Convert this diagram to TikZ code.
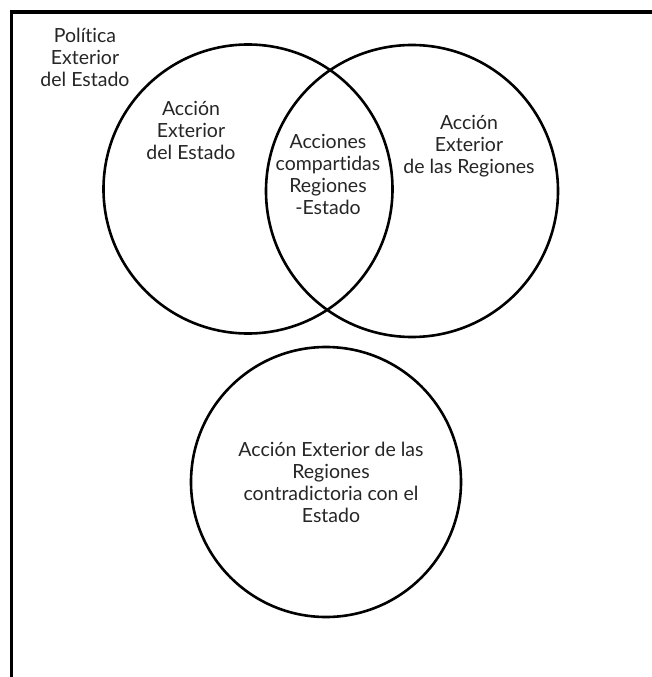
\documentclass[tikz,border=0pt]{standalone}
\usepackage{fontspec}
\setmainfont[Ligatures=NoCommon]{Lato}
\begin{document}
\begin{tikzpicture}[x=1pt,y=-1pt,
  ring/.style={draw=black,line width=2.6pt,circle},
  lbl/.style={align=center,font=\fontsize{19.5}{22}\selectfont,text=black!85,inner sep=0pt}]
\useasboundingbox (0,0) rectangle (652,677);
\fill[white] (0,0) rectangle (652,677);
\begin{scope}
\clip (0,0) rectangle (652,677);
\draw[line width=3.6pt] (11.5,700) -- (11.5,12) -- (700,12);
\end{scope}
\node[ring,minimum size=289pt] (left) at (248,189) {};
\node[ring,minimum size=292pt] (right) at (412,191) {};
\node[ring,minimum size=270pt] (bottom) at (326,482) {};
\node[lbl] (pol) at (85,57) {Política\\Exterior\\del Estado};
\node[lbl] (ae) at (191,130) {Acción\\Exterior\\del Estado};
\node[lbl] (sh) at (328,174) {Acciones\\compartidas\\Regiones\\-Estado};
\node[lbl] (ar) at (469,146) {Acción\\Exterior\\de las Regiones};
\node[lbl] (ac) at (331,482) {Acción Exterior de las\\Regiones\\contradictoria con el\\Estado};
\end{tikzpicture}
\end{document}
